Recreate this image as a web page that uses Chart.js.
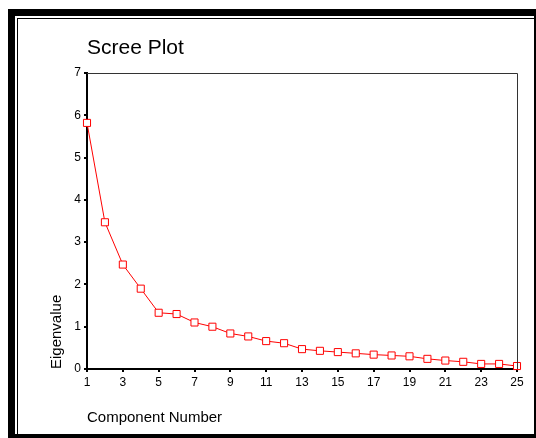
<!DOCTYPE html>
<html>
<head>
<meta charset="utf-8">
<script src="https://cdn.jsdelivr.net/npm/chart.js@4/dist/chart.umd.min.js"></script>
<style>
  html, body { margin: 0; padding: 0; background: #fff; }
  body { width: 536px; height: 438px; position: relative; overflow: hidden; }
  #inner { position: absolute; left: 17px; top: 18px; width: 516px; height: 415px;
           border: 1px solid #000; }
  #outer { position: absolute; left: 8px; top: 9px; width: 519px; height: 418px;
           border-left: 7px solid #000; border-top: 7px solid #000;
           border-right: 2px solid #000; border-bottom: 4px solid #000; }
  #c { position: absolute; left: 0; top: 0; }
</style>
</head>
<body>
<div id="inner"></div>
<div id="outer"></div>
<canvas id="c" width="536" height="438"></canvas>
<script>
const chartTitle = "Scree Plot";
const xTitle = "Component Number";
const yTitle = "Eigenvalue";
const components = [1,2,3,4,5,6,7,8,9,10,11,12,13,14,15,16,17,18,19,20,21,22,23,24,25];
const eigenvalues = [5.82,3.47,2.47,1.90,1.33,1.30,1.10,1.00,0.84,0.77,0.66,0.61,0.47,0.43,0.40,0.37,0.34,0.32,0.30,0.24,0.20,0.17,0.12,0.12,0.07];
const xTicks = [1,3,5,7,9,11,13,15,17,19,21,23,25];
const yTicks = [0,1,2,3,4,5,6,7];

const FONT = '"Liberation Sans", Arial, sans-serif';

const frameAndTitle = {
  id: 'frameAndTitle',
  afterDraw(chart) {
    const {ctx, chartArea: a} = chart;
    ctx.save();
    ctx.strokeStyle = '#333';
    ctx.lineWidth = 1;
    ctx.beginPath();
    ctx.moveTo(a.left, Math.round(a.top) + 0.5);
    ctx.lineTo(Math.round(a.right) + 0.5, Math.round(a.top) + 0.5);
    ctx.lineTo(Math.round(a.right) + 0.5, a.bottom);
    ctx.stroke();
    ctx.fillStyle = '#000';
    ctx.font = '21px ' + FONT;
    ctx.textBaseline = 'alphabetic';
    ctx.textAlign = 'left';
    ctx.fillText(chartTitle, a.left, 54);
    ctx.restore();
  }
};

new Chart(document.getElementById('c'), {
  type: 'line',
  data: {
    datasets: [{
      data: components.map((c, i) => ({x: c, y: eigenvalues[i]})),
      borderColor: '#ff0000',
      borderWidth: 1,
      pointStyle: 'rect',
      pointRadius: 5,
      pointBorderWidth: 1,
      pointBorderColor: '#ff0000',
      pointBackgroundColor: '#ffffff',
      tension: 0,
      clip: false
    }]
  },
  options: {
    responsive: false,
    animation: false,
    devicePixelRatio: 1,
    layout: { padding: { top: 73, right: 19, left: 0, bottom: 0 } },
    plugins: { legend: { display: false }, tooltip: { enabled: false }, title: { display: false } },
    scales: {
      x: {
        type: 'linear',
        min: 1, max: 25,
        afterBuildTicks: s => { s.ticks = xTicks.map(v => ({value: v})); },
        afterFit: s => { s.height = 69; },
        grid: { drawOnChartArea: false, drawTicks: true, tickLength: 3, color: '#000', lineWidth: 2 },
        border: { display: true, color: '#000', width: 2 },
        ticks: { color: '#000', font: { family: FONT, size: 12 }, padding: 3, maxRotation: 0, autoSkip: false },
        title: { display: true, text: xTitle, align: 'start', color: '#000',
                 font: { family: FONT, size: 15 }, padding: { top: 0, bottom: 11 } }
      },
      y: {
        type: 'linear',
        min: 0, max: 7,
        afterBuildTicks: s => { s.ticks = yTicks.map(v => ({value: v})); },
        afterFit: s => { s.width = 87; },
        grid: { drawOnChartArea: false, drawTicks: true, tickLength: 3, color: '#000', lineWidth: 2 },
        border: { display: true, color: '#000', width: 2 },
        ticks: { color: '#000', font: { family: FONT, size: 12 }, padding: 3, autoSkip: false },
        title: { display: true, text: yTitle, align: 'start', color: '#000',
                 font: { family: FONT, size: 15 }, padding: { top: 48, bottom: 0 } }
      }
    }
  },
  plugins: [frameAndTitle]
});
</script>
</body>
</html>
